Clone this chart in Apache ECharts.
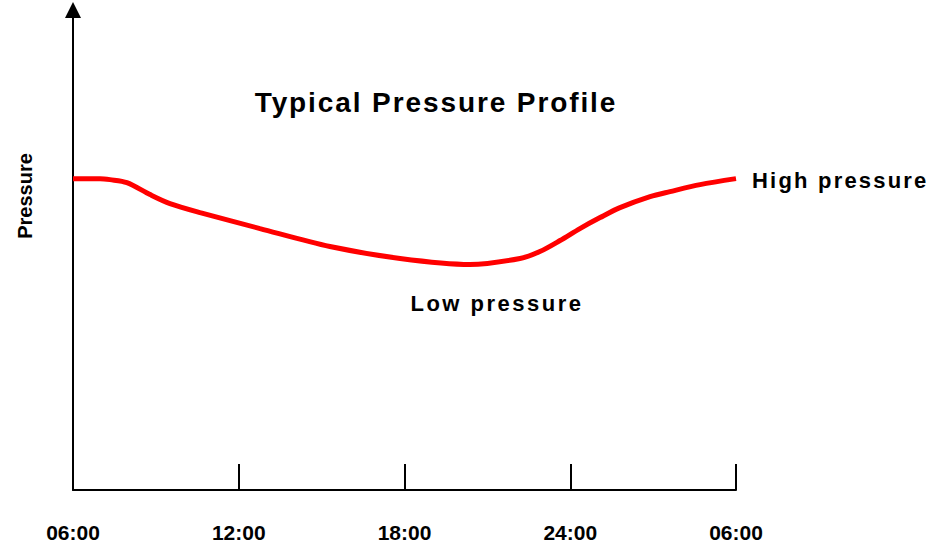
<!DOCTYPE html>
<html><head><meta charset="utf-8">
<script src="https://cdn.jsdelivr.net/npm/echarts@6/dist/echarts.min.js"></script>
<style>html,body{margin:0;padding:0;background:#fff}#c{width:939px;height:543px}</style>
</head><body><div id="c"></div>
<script>
// hours elapsed since 06:00
const hours = [0, 0.98, 1.34, 1.95, 2.79, 3.51, 4.6, 6.77, 9.3, 11.84, 14.37, 16.18, 16.9, 17.63, 18.35, 19.08, 19.8, 20.89, 21.61, 22.7, 24];
// relative pressure (arbitrary units)
const pressure = [312, 312, 311, 308, 296, 287, 278, 262, 244, 232, 226, 232, 239, 250, 262, 273, 283, 294, 299, 306, 312];
const tickLabels = ['06:00', '12:00', '18:00', '24:00', '06:00'];
const titleText = 'Typical Pressure Profile';
const yName = 'Pressure';
const highLabel = 'High pressure';
const lowLabel = 'Low pressure';

const font = '"Liberation Sans", Arial, sans-serif';
const chart = echarts.init(document.getElementById('c'), null, {renderer: 'svg'});
chart.setOption({
  animation: false,
  backgroundColor: '#fff',
  grid: {left: 73, right: 203, top: 10, bottom: 52},
  xAxis: {
    type: 'value', min: 0, max: 24, interval: 6,
    axisLine: {lineStyle: {color: '#000', width: 2}},
    axisTick: {show: true, inside: true, length: 26, lineStyle: {color: '#000', width: 2}},
    axisLabel: {
      margin: 32, color: '#000', fontFamily: font, fontWeight: 'bold', fontSize: 21,
      formatter: v => tickLabels[Math.round(v / 6)]
    },
    splitLine: {show: false}
  },
  yAxis: {
    type: 'value', min: 0, max: 481,
    axisLine: {show: true, symbol: ['none', 'triangle'], symbolSize: [16, 16], lineStyle: {color: '#000', width: 2}},
    axisTick: {show: false}, axisLabel: {show: false}, splitLine: {show: false}
  },
  graphic: [
    {type: 'text', x: 436, y: 102, style: {
      text: titleText, font: 'bold 28px ' + font, fill: '#000', textAlign: 'center', textVerticalAlign: 'middle'}},
    {type: 'text', x: 25, y: 196, rotation: Math.PI / 2, style: {
      text: yName, font: 'bold 20px ' + font, fill: '#000', textAlign: 'center', textVerticalAlign: 'middle'}},
    {type: 'text', x: 497, y: 303, style: {
      text: lowLabel, font: 'bold 22px ' + font, fill: '#000', textAlign: 'center', textVerticalAlign: 'middle'}}
  ],
  series: [{
    type: 'line', smooth: 0.3, symbol: 'none',
    data: hours.map((h, i) => [h, pressure[i]]),
    lineStyle: {color: '#ff0000', width: 5},
    endLabel: {show: true, formatter: highLabel, distance: 16, color: '#000', offset: [0, 2],
      fontFamily: font, fontWeight: 'bold', fontSize: 22}
  }]
});
// letter spacing of the reference's wide-set labels
const spacing = {};
spacing[titleText] = '1.9px';
spacing[highLabel] = '2.2px';
spacing[lowLabel] = '2.5px';
document.querySelectorAll('#c svg text').forEach(t => {
  const s = spacing[t.textContent];
  if (s) t.setAttribute('letter-spacing', s);
});
</script></body></html>
